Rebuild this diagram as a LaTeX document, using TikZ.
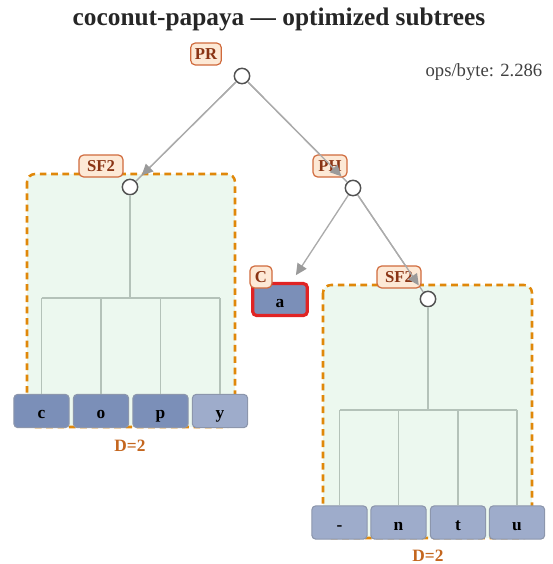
\documentclass[tikz,border=0pt]{standalone}
\usepackage{fontspec}
\setmainfont{Liberation Serif}
\usetikzlibrary{arrows.meta}
\definecolor{tagfill}{HTML}{FDE9D6}
\definecolor{tagdraw}{HTML}{D06A3C}
\definecolor{tagtext}{HTML}{8A3414}
\definecolor{boxfill}{HTML}{ECF8EF}
\definecolor{boxdash}{HTML}{E0880A}
\definecolor{leafdark}{HTML}{7B8FB8}
\definecolor{leaflight}{HTML}{9EACCB}
\definecolor{leafdraw}{HTML}{8C96AC}
\definecolor{treeline}{HTML}{B4C2B9}
\definecolor{edgegray}{HTML}{ABABAB}
\definecolor{tipgray}{HTML}{9A9A9A}
\definecolor{hotred}{HTML}{E02424}
\definecolor{dtext}{HTML}{C4661E}
\tikzset{
  tag/.style={draw=tagdraw, fill=tagfill, rounded corners=3.5pt, line width=0.9pt,
    text=tagtext, font=\fontsize{12.5}{12.5}\selectfont\bfseries, inner sep=0pt,
    minimum height=16.5pt, text depth=0pt},
  junction/.style={circle, draw=black!68, fill=white, line width=1.1pt, minimum size=11.5pt, inner sep=0pt},
  leaf/.style={draw=leafdraw, rounded corners=3pt, line width=0.8pt, minimum width=41.5pt,
    minimum height=25pt, inner sep=0pt, text height=11.5pt, text depth=0pt,
    font=\fontsize{13}{13}\selectfont\bfseries},
  darkleaf/.style={leaf, fill=leafdark},
  lightleaf/.style={leaf, fill=leaflight},
  subtree/.style={draw=boxdash, fill=boxfill, dash pattern=on 5pt off 3.5pt, line width=1.9pt, rounded corners=6pt},
  treelink/.style={draw=treeline, line width=1.1pt},
  edge/.style={draw=edgegray, line width=1pt},
  arrowedge/.style={draw=edgegray, line width=1pt,
    -{Triangle[length=8.5pt, width=8pt, color=tipgray, fill=tipgray]}, shorten >=6pt},
  depth/.style={text=dtext, font=\fontsize{13}{13}\selectfont\bfseries, inner sep=0pt}
}
\begin{document}
\begin{tikzpicture}[x=0.75pt, y=-0.75pt]
\useasboundingbox (0,0) rectangle (553,564);

% title and score
\node[font=\fontsize{19}{19}\selectfont\bfseries, text=black!85] (title) at (279,19) {coconut-papaya — optimized subtrees};
\node[anchor=east, font=\fontsize{14}{14}\selectfont, text=black!75] (score) at (547,72) {ops/byte: 2.286};

% dashed subtree regions
\draw[subtree] (27,174) rectangle (235,427);
\draw[subtree] (323,285) rectangle (532,538);

% junctions
\node[junction] (root) at (242,76) {};
\node[junction] (sfl) at (130,187) {};
\node[junction] (ph) at (353,188) {};
\node[junction] (sfr) at (428,299) {};

% leaves of the left subtree
\node[darkleaf] (c) at (41.5,411) {c};
\node[darkleaf] (o) at (101,411) {o};
\node[darkleaf] (p) at (160.5,411) {p};
\node[lightleaf] (y) at (220,411) {y};

% single leaf
\node[darkleaf, draw=hotred, line width=2.4pt, minimum width=41pt, minimum height=24pt] (a) at (280,299.5) {a};

% leaves of the right subtree
\node[lightleaf] (dash) at (339.5,522.5) {-};
\node[lightleaf] (n) at (398.5,522.5) {n};
\node[lightleaf] (t) at (458,522.5) {t};
\node[lightleaf] (u) at (517,522.5) {u};

% fan-out inside the left subtree
\coordinate (barL) at (130,298);
\draw[treelink] (sfl) -- (barL);
\draw[treelink] (c.north |- barL) -- (y.north |- barL);
\foreach \l in {c,o,p,y} \draw[treelink] (\l.north |- barL) -- (\l.north);

% fan-out inside the right subtree
\coordinate (barR) at (428,410);
\draw[treelink] (sfr) -- (barR);
\draw[treelink] (dash.north |- barR) -- (u.north |- barR);
\foreach \l in {dash,n,t,u} \draw[treelink] (\l.north |- barR) -- (\l.north);

% edges between junctions
\draw[edge] (root) -- (sfl);
\draw[edge] (root) -- (ph);
\draw[edge] (ph) -- (sfr);

% tags
\node[tag, minimum width=23pt] (tPR) at (206,54) {PR};
\node[tag, minimum width=33pt] (tSFL) at (101,166) {SF2};
\node[tag, minimum width=25.5pt] (tPH) at (330,166) {PH};
\node[tag, minimum width=16.5pt] (tC) at (261,277) {C};
\node[tag, minimum width=33pt] (tSFR) at (399,277) {SF2};

% arrowheads over the tags
\draw[arrowedge] (root) -- (sfl);
\draw[arrowedge] (root) -- (ph);
\draw[arrowedge] (ph) -- (a);
\draw[arrowedge] (ph) -- (sfr);

% depth labels
\node[depth] (dL) at (130,446) {D=2};
\node[depth] (dR) at (428,556) {D=2};
\end{tikzpicture}
\end{document}
